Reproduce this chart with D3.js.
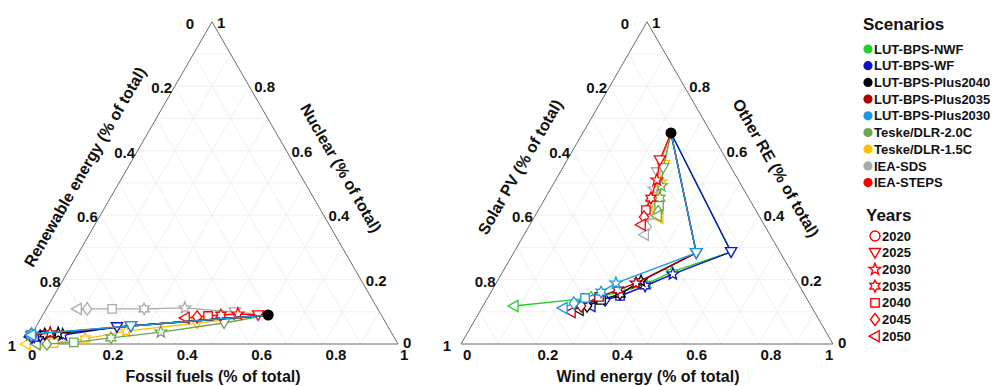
<!DOCTYPE html>
<html><head><meta charset="utf-8">
<script src="https://cdn.jsdelivr.net/npm/d3@7"></script>
<style>
html,body{margin:0;padding:0;background:#fff;}
svg text{font-family:"Liberation Sans",Arial,sans-serif;font-weight:bold;fill:#111;}
</style></head>
<body>
<svg id="chart" width="994" height="386"></svg>
<script>
// ---------- DATA ----------
const scenarios = ["LUT-BPS-NWF","LUT-BPS-WF","LUT-BPS-Plus2040","LUT-BPS-Plus2035","LUT-BPS-Plus2030","Teske/DLR-2.0C","Teske/DLR-1.5C","IEA-SDS","IEA-STEPS"];
const scenarioColors = ["#1ed12b","#1010c8","#000000","#b00000","#1a9be8","#6aa84f","#ffc000","#aaaaaa","#ff0000"];
const years = [2020,2025,2030,2035,2040,2045,2050];
const ticks = [0,0.2,0.4,0.6,0.8,1];
const tickLabels = ["0","0.2","0.4","0.6","0.8","1"];

// Left triangle: fossil fuels share and nuclear share (renewable = rest), per scenario
const fossilShare = [
  [0.606,0.218,0.083,0.025,0.010,0.005,0.000],
  [0.606,0.218,0.085,0.026,0.011,0.005,0.000],
  [0.606,0.254,0.070,0.035,0.000,0.000,0.000],
  [0.606,0.254,0.048,0.000,0.000,0.000,0.000],
  [0.606,0.254,0.000,0.000,0.000,0.000,0.000],
  [0.606,0.500,0.344,0.219,0.126,0.056,0.027],
  [0.606,0.427,0.249,0.151,0.073,0.035,0.000],
  [0.606,0.512,0.371,0.263,0.177,0.110,0.083],
  [0.606,0.579,0.523,0.479,0.446,0.418,0.387]
];
const nuclearShare = [
  [0.090,0.053,0.030,0.025,0.023,0.022,0.021],
  [0.090,0.053,0.028,0.025,0.022,0.022,0.022],
  [0.090,0.056,0.033,0.031,0.028,0.027,0.027],
  [0.090,0.056,0.034,0.028,0.027,0.027,0.027],
  [0.090,0.056,0.031,0.029,0.028,0.028,0.028],
  [0.090,0.065,0.037,0.019,0.005,0.000,0.000],
  [0.090,0.065,0.040,0.016,0.003,0.000,0.000],
  [0.090,0.099,0.112,0.109,0.109,0.109,0.109],
  [0.090,0.090,0.093,0.090,0.087,0.084,0.081]
];
// Right triangle: wind share and other RE share (solar PV = rest), per scenario
const windShare = [
  [0.237,0.583,0.455,0.404,0.349,0.278,0.083],
  [0.237,0.583,0.461,0.405,0.353,0.319,0.290],
  [0.237,0.491,0.386,0.350,0.308,0.280,0.264],
  [0.237,0.491,0.376,0.338,0.298,0.264,0.246],
  [0.237,0.491,0.322,0.296,0.262,0.240,0.218],
  [0.237,0.270,0.293,0.308,0.318,0.325,0.328],
  [0.237,0.268,0.286,0.303,0.316,0.328,0.336],
  [0.237,0.260,0.278,0.292,0.305,0.318,0.323],
  [0.237,0.249,0.272,0.284,0.289,0.295,0.299]
];
const otherREShare = [
  [0.655,0.286,0.224,0.186,0.161,0.143,0.118],
  [0.655,0.286,0.217,0.180,0.149,0.137,0.118],
  [0.655,0.283,0.196,0.155,0.137,0.118,0.106],
  [0.655,0.283,0.189,0.168,0.146,0.118,0.099],
  [0.655,0.283,0.189,0.161,0.143,0.127,0.112],
  [0.655,0.547,0.491,0.453,0.429,0.410,0.398],
  [0.655,0.556,0.503,0.453,0.422,0.404,0.391],
  [0.655,0.534,0.481,0.438,0.401,0.363,0.339],
  [0.655,0.571,0.509,0.453,0.416,0.394,0.370]
];
const drawOrder = [7,6,5,8,0,1,2,3,4];

// ---------- LAYOUT ----------
const svg = d3.select("#chart");
const side = 372, baseY = 344, H = side*Math.sqrt(3)/2;

function markerPath(k){
  const p = d3.path();
  const poly = pts => { pts.forEach((q,i)=> i? p.lineTo(q[0],q[1]) : p.moveTo(q[0],q[1])); p.closePath(); };
  if(k===0){ p.arc(0,0,5,0,2*Math.PI); }
  else if(k===1){ poly([[0,5.5],[-5.6,-4.2],[5.6,-4.2]]); }
  else if(k===2){ const pts=[]; for(let i=0;i<10;i++){const a=-Math.PI/2+i*Math.PI/5, r=i%2?2.6:6.2; pts.push([r*Math.cos(a),r*Math.sin(a)]);} poly(pts); }
  else if(k===3){ const pts=[]; for(let i=0;i<12;i++){const a=-Math.PI/2+i*Math.PI/6, r=i%2?3.2:5.8; pts.push([r*Math.cos(a),r*Math.sin(a)]);} poly(pts); }
  else if(k===4){ poly([[-4.2,-4.2],[4.2,-4.2],[4.2,4.2],[-4.2,4.2]]); }
  else if(k===5){ poly([[0,-6.2],[4.6,0],[0,6.2],[-4.6,0]]); }
  else { poly([[-5.8,0],[4.2,-5.6],[4.2,5.6]]); }
  return p.toString();
}

function drawTernary(x0, aShare, cShare, titles){
  // aShare: bottom axis (0 at left, 1 at right vertex); cShare: apex axis
  const xs = d3.scaleLinear().domain([0,1]).range([x0, x0+side]);
  const ys = d3.scaleLinear().domain([0,1]).range([baseY, baseY-H]);
  const P = (a,c) => [xs(a + c/2), ys(c)];
  const g = svg.append("g");
  // grid
  const grid = [];
  for(let i=1;i<10;i++){
    const t=i/10;
    grid.push([P(0,t),P(1-t,t)]);
    grid.push([P(t,0),P(t,1-t)]);
    grid.push([P(1-t,0),P(0,1-t)]);
  }
  g.selectAll("line.grid").data(grid).join("line")
    .attr("x1",d=>d[0][0]).attr("y1",d=>d[0][1]).attr("x2",d=>d[1][0]).attr("y2",d=>d[1][1])
    .attr("stroke","#ececec").attr("stroke-width",0.8);
  // outline
  g.append("path").attr("d", d3.line()([P(0,0),P(1,0),P(0,1)]) + "Z")
    .attr("fill","none").attr("stroke","#6b6b6b").attr("stroke-width",1);
  // tick labels
  const fs = 15;
  ticks.forEach((t,i)=>{
    // bottom axis
    let q = P(t,0);
    g.append("text").attr("x",q[0]+2 + (t===1? titles.bottomOneDx:0)).attr("y",baseY+16).attr("font-size",fs).attr("text-anchor","start").text(tickLabels[i]);
    // left axis (1 at bottom-left, 0 at apex)
    q = P(0,1-t);
    let dx = t===0? -22 : (t===1? -14 : -13);
    g.append("text").attr("x",q[0]+dx).attr("y",q[1]+7).attr("font-size",fs).attr("text-anchor","middle").text(tickLabels[i]);
    // right axis (0 at bottom-right, 1 at apex)
    q = P(1-t,t);
    g.append("text").attr("x",q[0]+5).attr("y",q[1]+(t===0?4:6)).attr("font-size",fs).attr("text-anchor","start").text(tickLabels[i]);
  });
  // axis titles
  g.append("text").attr("x",x0+187).attr("y",382).attr("font-size",16).attr("text-anchor","middle").text(titles.bottom);
  g.append("text").attr("font-size",16).attr("text-anchor","middle")
    .attr("transform",`translate(${x0+59},${167}) rotate(-60)`).attr("dy","0.35em").text(titles.left);
  g.append("text").attr("font-size",16).attr("text-anchor","middle")
    .attr("transform",`translate(${x0+315},${168}) rotate(60)`).attr("dy","0.35em").text(titles.right);
  // series
  const line = d3.line();
  drawOrder.forEach(s=>{
    const pts = years.map((y,k)=>P(aShare[s][k], cShare[s][k]));
    g.append("path").attr("d",line(pts)).attr("fill","none")
      .attr("stroke",scenarioColors[s]).attr("stroke-width",1.4);
    g.selectAll(null).data(pts.slice(1)).join("path")
      .attr("transform",d=>`translate(${d[0]},${d[1]})`)
      .attr("d",(d,k)=>markerPath(k+1))
      .attr("fill","#fff").attr("stroke",scenarioColors[s]).attr("stroke-width",1.3);
  });
  // 2020 common start point
  const p0 = P(aShare[2][0], cShare[2][0]);
  g.append("circle").attr("cx",p0[0]).attr("cy",p0[1]).attr("r",5.5).attr("fill","#000");
}

drawTernary(26, fossilShare, nuclearShare,
  {bottom:"Fossil fuels (% of total)", left:"Renewable energy (% of total)", right:"Nuclear (% of total)", bottomOneDx:0});
drawTernary(461, windShare, otherREShare,
  {bottom:"Wind energy (% of total)", left:"Solar PV (% of total)", right:"Other RE (% of total)", bottomOneDx:-10});

// ---------- LEGENDS ----------
const lg = svg.append("g");
lg.append("text").attr("x",863).attr("y",30).attr("font-size",17).text("Scenarios");
scenarios.forEach((s,i)=>{
  const y = 49 + i*16.7;
  lg.append("circle").attr("cx",868).attr("cy",y).attr("r",4.6).attr("fill",scenarioColors[i]);
  lg.append("text").attr("x",874).attr("y",y+4.6).attr("font-size",13).text(s);
});
lg.append("text").attr("x",866).attr("y",221).attr("font-size",17).text("Years");
years.forEach((yr,i)=>{
  const y = 236 + i*16.7;
  lg.append("path").attr("transform",`translate(875,${y})`).attr("d",markerPath(i))
    .attr("fill","#fff").attr("stroke","#ff0000").attr("stroke-width",1.4);
  lg.append("text").attr("x",882).attr("y",y+4.6).attr("font-size",13).text(yr);
});
</script>
</body></html>
